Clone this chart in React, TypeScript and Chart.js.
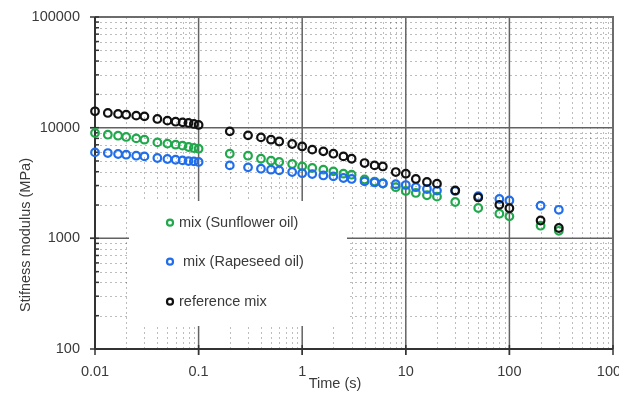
import { useEffect, useRef } from 'react';
import { Chart, registerables } from 'chart.js';

Chart.register(...registerables);

const times = [0.01, 0.0133, 0.0167, 0.02, 0.025, 0.03, 0.04, 0.05, 0.06, 0.07, 0.08, 0.09, 0.1, 0.2, 0.3, 0.4, 0.5, 0.6, 0.8, 1, 1.25, 1.6, 2, 2.5, 3, 4, 5, 6, 8, 10, 12.5, 16, 20, 30, 50, 80, 100, 200, 300];
const sunflower = [8960, 8640, 8460, 8240, 8000, 7790, 7360, 7170, 7020, 6880, 6690, 6550, 6460, 5820, 5580, 5240, 5030, 4900, 4700, 4470, 4320, 4170, 4030, 3840, 3760, 3400, 3260, 3130, 2900, 2680, 2570, 2450, 2380, 2130, 1880, 1670, 1580, 1300, 1170];
const rapeseed = [5980, 5900, 5780, 5700, 5580, 5500, 5320, 5210, 5130, 5060, 4990, 4960, 4900, 4560, 4380, 4260, 4170, 4110, 3970, 3880, 3810, 3700, 3630, 3510, 3440, 3270, 3200, 3140, 3080, 3030, 2900, 2790, 2700, 2680, 2400, 2270, 2200, 1970, 1810];
const reference = [14050, 13580, 13300, 13100, 12840, 12650, 11990, 11570, 11320, 11170, 11030, 10800, 10580, 9260, 8520, 8170, 7790, 7500, 7120, 6770, 6330, 6110, 5820, 5500, 5240, 4790, 4560, 4460, 3970, 3840, 3440, 3230, 3120, 2710, 2340, 2010, 1870, 1450, 1240];

const seriesNames = ['mix (Sunflower oil)', ' mix (Rapeseed oil)', 'reference mix'];
const seriesColors = ['rgb(34,168,76)', 'rgb(33,110,235)', '#111111'];

const xTickValues = [0.01, 0.1, 1, 10, 100, 1000];
const xTickLabels = ['0.01', '0.1', '1', '10', '100', '1000'];
const yTickValues = [100, 1000, 10000, 100000];
const yTickLabels = ['100', '1000', '10000', '100000'];
const minorSteps = [2, 3, 4, 5, 6, 7, 8, 9];

const xTitle = 'Time (s)';
const yTitle = 'Stifness modulus (MPa)';

const FONT = '14.5px "Liberation Sans", Arial, sans-serif';
const TEXT = '#3a3a3a';

const framePlugin = {
  id: 'frame',
  beforeDatasetsDraw(chart: any) {
    const { ctx, chartArea: a, scales } = chart;
    const x = scales.x;
    const y = scales.y;
    ctx.save();

    // minor grid
    ctx.strokeStyle = 'rgba(0,0,0,0.26)';
    ctx.lineWidth = 1;
    ctx.setLineDash([2, 3]);
    for (let i = 0; i < xTickValues.length - 1; i++) {
      for (const m of minorSteps) {
        const px = Math.round(x.getPixelForValue(xTickValues[i] * m)) + 0.5;
        ctx.beginPath();
        ctx.moveTo(px, a.top);
        ctx.lineTo(px, a.bottom);
        ctx.stroke();
      }
    }
    for (let i = 0; i < yTickValues.length - 1; i++) {
      for (const m of minorSteps) {
        const py = Math.round(y.getPixelForValue(yTickValues[i] * m)) + 0.5;
        ctx.beginPath();
        ctx.moveTo(a.left, py);
        ctx.lineTo(a.right, py);
        ctx.stroke();
      }
    }
    ctx.setLineDash([]);

    // major grid
    ctx.strokeStyle = '#626262';
    ctx.lineWidth = 1.5;
    for (let i = 1; i < xTickValues.length - 1; i++) {
      const px = x.getPixelForValue(xTickValues[i]);
      ctx.beginPath();
      ctx.moveTo(px, a.top);
      ctx.lineTo(px, a.bottom + 6);
      ctx.stroke();
    }
    for (let i = 1; i < yTickValues.length - 1; i++) {
      const py = y.getPixelForValue(yTickValues[i]);
      ctx.beginPath();
      ctx.moveTo(a.left - 5, py);
      ctx.lineTo(a.right, py);
      ctx.stroke();
    }

    // legend box (covers grid)
    ctx.fillStyle = '#ffffff';
    ctx.fillRect(121, 193, 218, 125);

    // frame top/right
    ctx.strokeStyle = '#6c6c6c';
    ctx.lineWidth = 2;
    ctx.beginPath();
    ctx.moveTo(a.left, a.top);
    ctx.lineTo(a.right, a.top);
    ctx.lineTo(a.right, a.bottom);
    ctx.stroke();

    // axes left/bottom
    ctx.strokeStyle = '#333333';
    ctx.lineWidth = 2;
    ctx.beginPath();
    ctx.moveTo(a.left, a.top);
    ctx.lineTo(a.left, a.bottom);
    ctx.lineTo(a.right, a.bottom);
    ctx.stroke();

    // y ticks
    ctx.lineWidth = 1.5;
    for (let i = 0; i < yTickValues.length; i++) {
      const py = y.getPixelForValue(yTickValues[i]);
      ctx.beginPath();
      ctx.moveTo(a.left - 5, py);
      ctx.lineTo(a.left + 4, py);
      ctx.stroke();
      if (i < yTickValues.length - 1) {
        for (const m of minorSteps) {
          const pm = y.getPixelForValue(yTickValues[i] * m);
          ctx.beginPath();
          ctx.moveTo(a.left, pm);
          ctx.lineTo(a.left + 4, pm);
          ctx.stroke();
        }
      }
    }
    // x ticks
    for (let i = 0; i < xTickValues.length; i++) {
      const px = x.getPixelForValue(xTickValues[i]);
      ctx.beginPath();
      ctx.moveTo(px, a.bottom - 4);
      ctx.lineTo(px, a.bottom + 6);
      ctx.stroke();
    }

    // tick labels
    ctx.fillStyle = TEXT;
    ctx.font = FONT;
    ctx.textBaseline = 'middle';
    ctx.textAlign = 'right';
    for (let i = 0; i < yTickValues.length; i++) {
      ctx.fillText(yTickLabels[i], a.left - 15, y.getPixelForValue(yTickValues[i]));
    }
    ctx.textAlign = 'center';
    for (let i = 0; i < xTickValues.length; i++) {
      ctx.fillText(xTickLabels[i], x.getPixelForValue(xTickValues[i]), a.bottom + 23);
    }

    // titles
    ctx.fillText(xTitle, a.left + 240, a.bottom + 35);
    ctx.save();
    ctx.translate(18, 227);
    ctx.rotate(-Math.PI / 2);
    ctx.fillText(yTitle, 0, 0);
    ctx.restore();

    ctx.restore();
  },
  afterDatasetsDraw(chart: any) {
    const { ctx } = chart;
    ctx.save();
    const ys = [214.7, 253.7, 293.7];
    ctx.font = FONT;
    ctx.textBaseline = 'middle';
    ctx.textAlign = 'left';
    for (let i = 0; i < seriesNames.length; i++) {
      ctx.strokeStyle = seriesColors[i];
      ctx.lineWidth = 2.2;
      ctx.beginPath();
      ctx.arc(162, ys[i], 3, 0, Math.PI * 2);
      ctx.stroke();
      ctx.fillStyle = TEXT;
      ctx.fillText(seriesNames[i], 171, ys[i]);
    }
    ctx.restore();
  },
};

export default function App() {
  const ref = useRef<HTMLCanvasElement | null>(null);

  useEffect(() => {
    if (!ref.current) return;
    const series = [sunflower, rapeseed, reference];
    const chart = new Chart(ref.current, {
      type: 'scatter',
      data: {
        datasets: series.map((vals, i) => ({
          label: seriesNames[i],
          data: times.map((t, j) => ({ x: t, y: vals[j] })),
          borderColor: seriesColors[i],
          backgroundColor: 'rgba(0,0,0,0)',
          pointRadius: 3.8,
          pointBorderWidth: 2.2,
          pointHoverRadius: 3.8,
          showLine: false,
          clip: false,
          order: 3 - i,
        })),
      },
      options: {
        responsive: false,
        animation: false,
        devicePixelRatio: 1,
        layout: { padding: { left: 87, right: 14, top: 9, bottom: 43 } },
        plugins: { legend: { display: false }, tooltip: { enabled: false } },
        scales: {
          x: { type: 'logarithmic', min: 0.01, max: 1000, display: false },
          y: { type: 'logarithmic', min: 100, max: 100000, display: false },
        },
      },
      plugins: [framePlugin],
    });
    return () => chart.destroy();
  }, []);

  return (
    <div style={{ width: 619, height: 384 }}>
      <canvas ref={ref} width={619} height={384} style={{ display: 'block' }} />
    </div>
  );
}
